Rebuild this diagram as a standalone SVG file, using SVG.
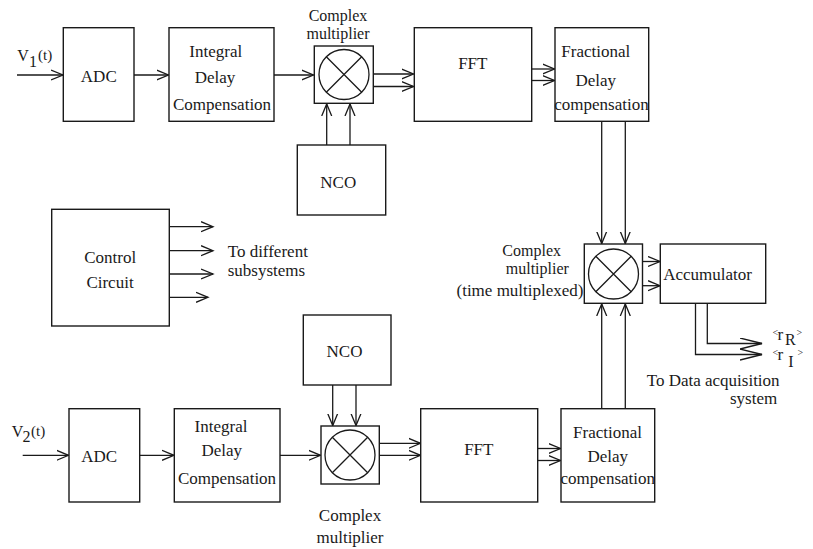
<svg xmlns="http://www.w3.org/2000/svg" width="813" height="549" viewBox="0 0 813 549" font-family="'Liberation Serif', 'Times New Roman', 'DejaVu Serif', serif">
<style>
.box{fill:#fff;stroke:#1a1a1a;stroke-width:1.4}
.ln{fill:none;stroke:#1a1a1a;stroke-width:1.3}
.arr{fill:none;stroke:#1a1a1a;stroke-width:1.3;marker-end:url(#ah)}
.arrL{fill:none;stroke:#1a1a1a;stroke-width:1.3;marker-end:url(#ahL)}
text{font-family:'Liberation Serif','Times New Roman','DejaVu Serif',serif;font-size:17px;fill:#1a1a1a}
.c{text-anchor:middle}
.sm{font-size:16px}
</style>
<defs>
<marker id="ah" markerUnits="userSpaceOnUse" markerWidth="16" markerHeight="14" refX="12" refY="6" orient="auto" viewBox="0 0 16 14">
<path d="M0,1 L12,6 L0,11" fill="none" stroke="#1a1a1a" stroke-width="1.3"/>
</marker>
<marker id="ahL" markerUnits="userSpaceOnUse" markerWidth="26" markerHeight="14" refX="22" refY="6" orient="auto" viewBox="0 0 26 14">
<path d="M0,0.5 L22,6 L0,11.5" fill="none" stroke="#1a1a1a" stroke-width="1.3"/>
</marker>
</defs>

<g id="connectors">
<path class="arr" d="M17,75 H63"/>
<path class="arr" d="M134,75 H168.5"/>
<path class="arr" d="M274,75 H313.5"/>
<path class="arr" d="M373.3,74 H413.5"/>
<path class="arr" d="M373.3,86.5 H413.5"/>
<path class="arr" d="M531.7,69 H554.5"/>
<path class="arr" d="M531.7,80.5 H554.5"/>
<path class="arr" d="M326.7,145 V104"/>
<path class="arr" d="M350,145 V104"/>
<path class="arr" d="M601.7,121.3 V243.5"/>
<path class="arr" d="M625.3,121.3 V243.5"/>
<path class="arr" d="M169.3,226.7 H213"/>
<path class="arr" d="M169.3,250.7 H213"/>
<path class="arr" d="M169.3,274 H213"/>
<path class="arr" d="M169.3,297.3 H208"/>
<path class="arr" d="M642.5,261.5 H660"/>
<path class="arr" d="M642.5,285.7 H660"/>
<path class="arrL" d="M707.3,303.3 V343.5 H762"/>
<path class="arrL" d="M695.5,303.3 V354.5 H762"/>
<path class="arr" d="M601.7,408.7 V304"/>
<path class="arr" d="M625.3,408.7 V304"/>
<path class="arr" d="M332.7,385 V425.5"/>
<path class="arr" d="M356,385 V425.5"/>
<path class="arr" d="M22.7,455.3 H68.5"/>
<path class="arr" d="M139.7,455.3 H174"/>
<path class="arr" d="M280,455.3 H320.5"/>
<path class="arr" d="M379.3,443.3 H420.5"/>
<path class="arr" d="M379.3,455.3 H420.5"/>
<path class="arr" d="M537.7,448.5 H560.5"/>
<path class="arr" d="M537.7,460.5 H560.5"/>
</g>

<g id="v1-label">
<text><tspan x="17.3" y="61" font-size="16">V</tspan><tspan x="29" y="66.5" font-size="16">1</tspan><tspan x="38" y="60" font-size="15">(t)</tspan></text>
</g>

<g id="adc1">
<rect class="box" x="63.3" y="27.7" width="70.7" height="93.6"/>
<text class="c" x="98.8" y="82">ADC</text>
</g>

<g id="idc1">
<rect class="box" x="169" y="27.7" width="105" height="93.6"/>
<text class="c" x="215.8" y="57">Integral</text>
<text class="c" x="215" y="83">Delay</text>
<text class="c" x="222" y="110">Compensation</text>
</g>

<g id="mult1">
<text class="c sm" x="338" y="21">Complex</text>
<text class="c sm" x="338" y="39">multiplier</text>
<rect class="box" x="314.3" y="46" width="59" height="57.3"/>
<circle class="ln" cx="344" cy="74.5" r="25"/>
<path class="ln" d="M326.3,56.8 L361.7,92.2 M361.7,56.8 L326.3,92.2"/>
</g>

<g id="nco1">
<rect class="box" x="297.3" y="145" width="88.4" height="70"/>
<text class="c" x="338.3" y="187.5">NCO</text>
</g>

<g id="fft1">
<rect class="box" x="414.3" y="27.7" width="117.4" height="93.6"/>
<text class="c" x="472.8" y="69">FFT</text>
</g>

<g id="fdc1">
<rect class="box" x="555" y="27.7" width="93.7" height="93.6"/>
<text class="c" x="595.8" y="57">Fractional</text>
<text class="c" x="595.8" y="86">Delay</text>
<text class="c" x="601.5" y="110">compensation</text>
</g>

<g id="control">
<rect class="box" x="51.7" y="209.3" width="117.6" height="116.7"/>
<text class="c" x="110.2" y="262.5">Control</text>
<text class="c" x="110" y="288">Circuit</text>
<text x="227.7" y="256.5">To different</text>
<text x="227.7" y="276">subsystems</text>
</g>

<g id="mult2">
<text class="c sm" x="531.7" y="256">Complex</text>
<text class="c sm" x="537.3" y="274">multiplier</text>
<text class="c" x="520" y="296">(time multiplexed)</text>
<rect class="box" x="584.3" y="244" width="58.2" height="59.3"/>
<circle class="ln" cx="613.5" cy="274" r="25"/>
<path class="ln" d="M595.8,256.3 L631.2,291.7 M631.2,256.3 L595.8,291.7"/>
</g>

<g id="accumulator">
<rect class="box" x="660.3" y="244" width="105.4" height="59.3"/>
<text class="c" x="707.5" y="280">Accumulator</text>
</g>

<g id="outputs">
<text><tspan x="772.5" y="336" font-size="10">&lt;</tspan><tspan x="777.5" y="340">r</tspan><tspan x="785" y="345" font-size="16">R</tspan><tspan x="796.5" y="336" font-size="10">&gt;</tspan></text>
<text><tspan x="772.5" y="356" font-size="10">&lt;</tspan><tspan x="777.5" y="360">r</tspan><tspan x="788.3" y="367" font-size="16">I</tspan><tspan x="797.5" y="356" font-size="10">&gt;</tspan></text>
<text x="646.7" y="385.5">To Data acquisition</text>
<text x="730" y="404">system</text>
</g>

<g id="nco2">
<rect class="box" x="303.3" y="315" width="87.7" height="70"/>
<text class="c" x="344.5" y="356.5">NCO</text>
</g>

<g id="v2-label">
<text><tspan x="11.7" y="437" font-size="16">V</tspan><tspan x="22.5" y="442" font-size="16">2</tspan><tspan x="31" y="436" font-size="15">(t)</tspan></text>
</g>

<g id="adc2">
<rect class="box" x="69" y="408.7" width="70.7" height="93.3"/>
<text class="c" x="99.2" y="461.5">ADC</text>
</g>

<g id="idc2">
<rect class="box" x="174.3" y="408.7" width="105.7" height="93.3"/>
<text class="c" x="221" y="432">Integral</text>
<text class="c" x="221.7" y="456">Delay</text>
<text class="c" x="227" y="484">Compensation</text>
</g>

<g id="mult3">
<rect class="box" x="321" y="426" width="58.3" height="58"/>
<circle class="ln" cx="350" cy="455" r="25"/>
<path class="ln" d="M332.3,437.3 L367.7,472.7 M367.7,437.3 L332.3,472.7"/>
<text class="c" x="350" y="520.5">Complex</text>
<text class="c" x="350" y="543">multiplier</text>
</g>

<g id="fft2">
<rect class="box" x="420.7" y="408.7" width="117" height="93.3"/>
<text class="c" x="478.8" y="455">FFT</text>
</g>

<g id="fdc2">
<rect class="box" x="561" y="408.7" width="93.7" height="93.3"/>
<text class="c" x="607.5" y="438">Fractional</text>
<text class="c" x="607.7" y="462">Delay</text>
<text class="c" x="607.8" y="484">compensation</text>
</g>
</svg>
